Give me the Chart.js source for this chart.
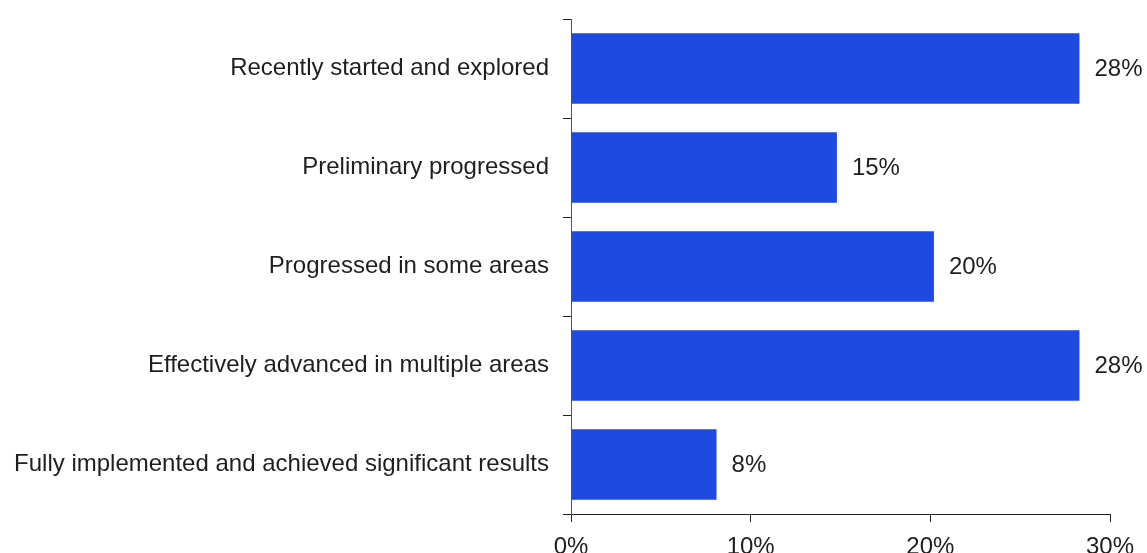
<!DOCTYPE html>
<html>
<head>
<meta charset="utf-8">
<script src="https://cdn.jsdelivr.net/npm/chart.js@4"></script>
<style>
  html, body { margin: 0; padding: 0; background: #fff; }
  #wrap { width: 1147px; height: 553px; position: relative; }
</style>
</head>
<body>
<div id="wrap"><canvas id="myChart"></canvas></div>
<script>
// stages of progress and share of respondents (%)
var categories = [
    'Recently started and explored',
    'Preliminary progressed',
    'Progressed in some areas',
    'Effectively advanced in multiple areas',
    'Fully implemented and achieved significant results'
];
var shares = [28.3, 14.8, 20.2, 28.3, 8.1];
var xTicks = [0, 10, 20, 30];

var barColor = '#1f4ae1';
var textColor = '#1e1e1e';
var fontFamily = '"Liberation Sans", Arial, sans-serif';
var fontSize = 24;

// writes the rounded percentage just past the end of each bar
var valueLabels = {
    id: 'valueLabels',
    afterDatasetsDraw: function(chart) {
        var ctx = chart.ctx;
        var meta = chart.getDatasetMeta(0);
        ctx.save();
        ctx.font = fontSize + 'px ' + fontFamily;
        ctx.fillStyle = textColor;
        ctx.textAlign = 'left';
        ctx.textBaseline = 'middle';
        meta.data.forEach(function(bar, i) {
            ctx.fillText(Math.round(shares[i]) + '%', bar.x + 15, bar.y + 1);
        });
        ctx.restore();
    }
};

var ctx = document.getElementById('myChart').getContext('2d');
var myChart = new Chart(ctx, {
    type: 'bar',
    data: {
        labels: categories,
        datasets: [{
            data: shares,
            backgroundColor: barColor,
            borderWidth: 0,
            categoryPercentage: 0.71,
            barPercentage: 1
        }]
    },
    plugins: [valueLabels],
    options: {
        indexAxis: 'y',
        responsive: true,
        maintainAspectRatio: false,
        animation: false,
        layout: { padding: { top: 19, right: 37, left: 0, bottom: 0 } },
        plugins: {
            legend: { display: false },
            tooltip: { enabled: false }
        },
        scales: {
            x: {
                min: 0,
                max: 30,
                afterBuildTicks: function(axis) {
                    axis.ticks = xTicks.map(function(v) { return { value: v }; });
                },
                afterFit: function(axis) {
                    axis.height = 39;
                    axis.paddingLeft = 0;
                    axis.paddingRight = 0;
                },
                grid: {
                    drawOnChartArea: false,
                    drawTicks: true,
                    tickLength: 8,
                    color: '#222'
                },
                border: { display: true, color: '#222', width: 1 },
                ticks: {
                    padding: 11,
                    color: textColor,
                    font: { family: fontFamily, size: fontSize },
                    callback: function(v) { return v + '%'; }
                }
            },
            y: {
                afterFit: function(axis) {
                    axis.width = 571;
                    axis.paddingTop = 0;
                    axis.paddingBottom = 0;
                },
                grid: {
                    offset: true,
                    drawOnChartArea: false,
                    drawTicks: true,
                    tickLength: 8,
                    color: '#222'
                },
                border: { display: true, color: '#555', width: 1 },
                ticks: {
                    padding: 14,
                    color: textColor,
                    font: { family: fontFamily, size: fontSize }
                }
            }
        }
    }
});
</script>
</body>
</html>
